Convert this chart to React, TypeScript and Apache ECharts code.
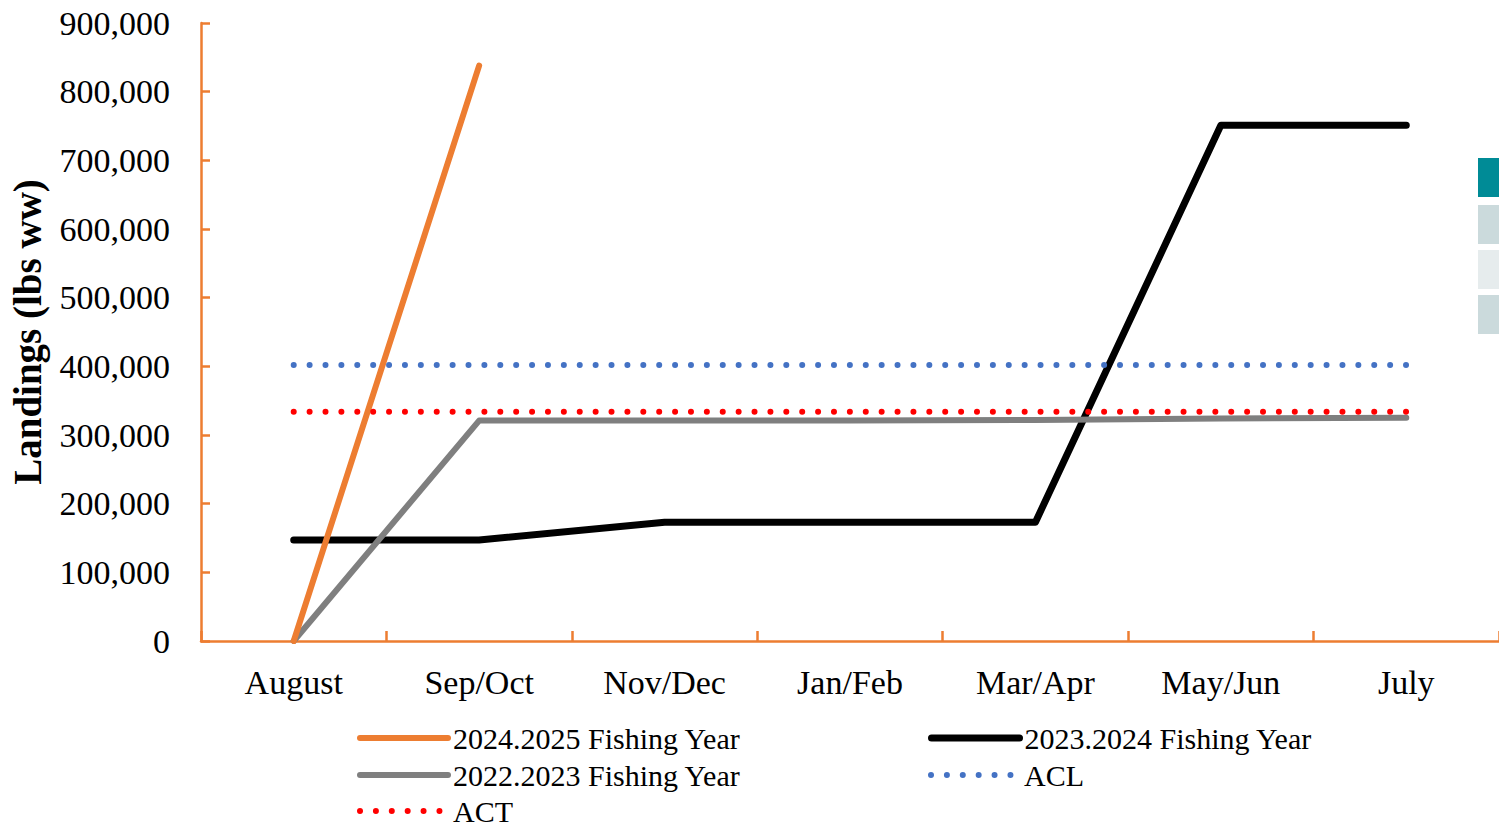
import React, { useEffect, useRef } from "react";
import * as echarts from "echarts";

const categories = ["August", "Sep/Oct", "Nov/Dec", "Jan/Feb", "Mar/Apr", "May/Jun", "July"];
const fy2024_2025 = [0, 838000, null, null, null, null, null];
const fy2023_2024 = [147000, 147000, 173000, 173000, 173000, 751000, 751000];
const fy2022_2023 = [0, 321000, 321000, 321000, 322000, 324000, 325000];
const acl = [402000, 402000, 402000, 402000, 402000, 402000, 402000];
const act = [334000, 334000, 334000, 334000, 334000, 334000, 334000];
const yTicks = { min: 0, max: 900000, interval: 100000 };

const FONT = '"Liberation Serif", "Times New Roman", serif';
const ORANGE = "#ED7D31";
const DOTS = [0.01, 15.88];

export default function App() {
  const ref = useRef<HTMLDivElement>(null);
  useEffect(() => {
    document.body.style.margin = "0";
    const chart = echarts.init(ref.current!, null, { renderer: "svg" });
    const legendText = { fontFamily: FONT, fontSize: 30, color: "#000", lineHeight: 30 };
    const mkLegend = (name: string, left: number, top: number, lineWidth: number, dotted: boolean) => ({
      orient: "horizontal",
      left,
      top,
      padding: 0,
      itemWidth: 88,
      itemHeight: 20,
      textStyle: legendText,
      itemStyle: { opacity: 0 },
      lineStyle: dotted
        ? { width: lineWidth, type: DOTS, cap: "round" }
        : { width: lineWidth, cap: "round" },
      data: [name],
    });
    chart.setOption({
      animation: false,
      backgroundColor: "#fff",
      grid: { left: 200, top: 23, right: 0, bottom: 188, containLabel: false },
      xAxis: {
        type: "category",
        data: categories,
        boundaryGap: true,
        axisLine: { lineStyle: { color: ORANGE, width: 2.5 } },
        axisTick: { show: true, inside: true, length: 10, lineStyle: { color: ORANGE, width: 2.5 } },
        axisLabel: { fontFamily: FONT, fontSize: 34, color: "#000", margin: 24 },
        splitLine: { show: false },
      },
      yAxis: {
        type: "value",
        min: yTicks.min,
        max: yTicks.max,
        interval: yTicks.interval,
        name: "Landings (lbs ww)",
        nameLocation: "middle",
        nameRotate: 90,
        nameGap: 154,
        nameTextStyle: { fontFamily: FONT, fontSize: 39, fontWeight: "bold", color: "#000" },
        axisLine: { show: true, lineStyle: { color: ORANGE, width: 2.5 } },
        axisTick: { show: true, inside: true, length: 9, lineStyle: { color: ORANGE, width: 2.5 } },
        axisLabel: {
          fontFamily: FONT,
          fontSize: 34,
          color: "#000",
          margin: 31,
          formatter: (v: number) => v.toLocaleString("en-US"),
        },
        splitLine: { show: false },
      },
      legend: [
        mkLegend("2024.2025 Fishing Year", 357, 723, 6, false),
        mkLegend("2023.2024 Fishing Year", 928, 723, 7, false),
        mkLegend("2022.2023 Fishing Year", 357, 760, 6, false),
        mkLegend("ACL", 928, 760, 6, true),
        mkLegend("ACT", 357, 796, 6, true),
      ],
      graphic: [
        { type: "rect", shape: { x: 1478, y: 158, width: 30, height: 39 }, style: { fill: "#008B96" } },
        { type: "rect", shape: { x: 1478, y: 205, width: 30, height: 39 }, style: { fill: "#CBDADC" } },
        { type: "rect", shape: { x: 1478, y: 250, width: 30, height: 39 }, style: { fill: "#E6ECED" } },
        { type: "rect", shape: { x: 1478, y: 295, width: 30, height: 39 }, style: { fill: "#CBDADC" } },
      ],
      series: [
        {
          name: "2023.2024 Fishing Year",
          type: "line",
          data: fy2023_2024,
          symbol: "none",
          z: 2,
          itemStyle: { color: "#000" },
          lineStyle: { color: "#000", width: 7, cap: "round", join: "round" },
        },
        {
          name: "2022.2023 Fishing Year",
          type: "line",
          data: fy2022_2023,
          symbol: "none",
          z: 3,
          itemStyle: { color: "#7F7F7F" },
          lineStyle: { color: "#7F7F7F", width: 6, cap: "round", join: "round" },
        },
        {
          name: "2024.2025 Fishing Year",
          type: "line",
          data: fy2024_2025,
          symbol: "none",
          z: 4,
          itemStyle: { color: ORANGE },
          lineStyle: { color: ORANGE, width: 6, cap: "round", join: "round" },
        },
        {
          name: "ACL",
          type: "line",
          data: acl,
          symbol: "none",
          z: 5,
          itemStyle: { color: "#4472C4" },
          lineStyle: { color: "#4472C4", width: 6, type: DOTS, cap: "round" },
        },
        {
          name: "ACT",
          type: "line",
          data: act,
          symbol: "none",
          z: 6,
          itemStyle: { color: "#FF0000" },
          lineStyle: { color: "#FF0000", width: 6, type: DOTS, cap: "round" },
        },
      ],
    });
    return () => chart.dispose();
  }, []);
  return <div ref={ref} style={{ width: 1499, height: 829 }} />;
}
